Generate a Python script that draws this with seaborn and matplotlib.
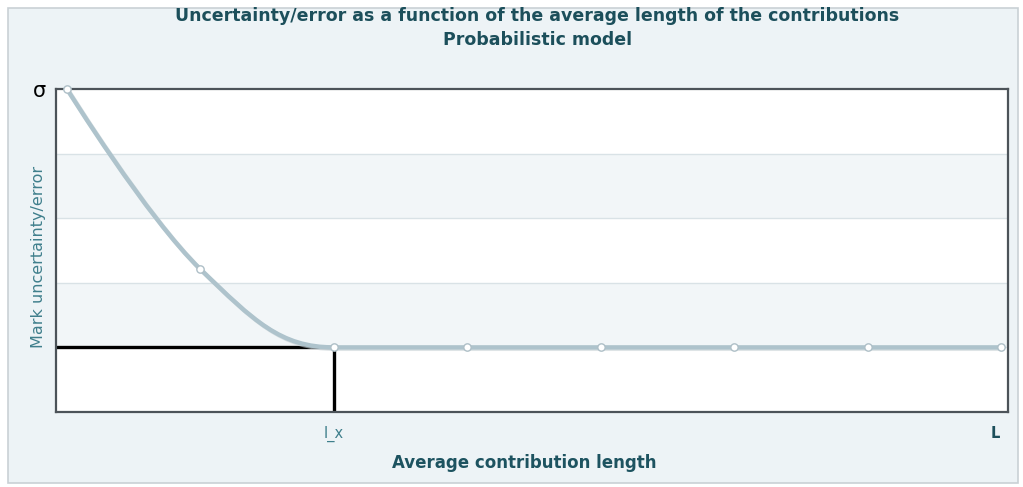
import numpy as np
import pandas as pd
import seaborn as sns
import matplotlib.pyplot as plt
from matplotlib.path import Path
from matplotlib.patches import PathPatch, Rectangle
import matplotlib.patheffects as pe
import matplotlib.transforms as mtransforms

# data
step = [0, 1, 2, 3, 4, 5, 6, 7]
error = [5.0, 2.21, 1.0, 1.0, 1.0, 1.0, 1.0, 1.0]
lx_step = 2
lx_error = 1.0
x_tick_pos = [2, 7]
x_tick_labels = ["l_x", "L"]
y_tick_pos = [5]
y_tick_labels = ["σ"]

df = pd.DataFrame({"step": step, "error": error})


def spline_path(xs, ys, smoothing=1.5):
    # bezier control points like a charting "spline" series
    n = len(xs)
    denom = smoothing + 1
    left = [None] * n
    right = [None] * n
    for i in range(1, n - 1):
        lx_, ly_ = xs[i - 1], ys[i - 1]
        nx_, ny_ = xs[i + 1], ys[i + 1]
        px, py = xs[i], ys[i]
        lcx = (smoothing * px + lx_) / denom
        lcy = (smoothing * py + ly_) / denom
        rcx = (smoothing * px + nx_) / denom
        rcy = (smoothing * py + ny_) / denom
        corr = ((rcy - lcy) * (rcx - px)) / (rcx - lcx) + py - rcy
        lcy += corr
        rcy += corr
        if lcy > ly_ and lcy > py:
            lcy = max(ly_, py)
            rcy = 2 * py - lcy
        elif lcy < ly_ and lcy < py:
            lcy = min(ly_, py)
            rcy = 2 * py - lcy
        if rcy > ny_ and rcy > py:
            rcy = max(ny_, py)
            lcy = 2 * py - rcy
        elif rcy < ny_ and rcy < py:
            rcy = min(ny_, py)
            lcy = 2 * py - rcy
        left[i] = (lcx, lcy)
        right[i] = (rcx, rcy)
    verts = [(xs[0], ys[0])]
    codes = [Path.MOVETO]
    for i in range(1, n):
        c1 = right[i - 1] if right[i - 1] is not None else (xs[i - 1], ys[i - 1])
        c2 = left[i] if left[i] is not None else (xs[i], ys[i])
        verts += [c1, c2, (xs[i], ys[i])]
        codes += [Path.CURVE4] * 3
    return Path(verts, codes)


sns.set_style("white")
plt.rcParams["font.family"] = ["DejaVu Sans"]

fig = plt.figure(figsize=(10.23, 4.87), dpi=100)
fig.patch.set_facecolor("white")
fig.patches.append(Rectangle((8 / 1023, 4 / 487), 1010 / 1023, 475 / 487,
                             transform=fig.transFigure, facecolor="#edf3f6",
                             edgecolor="#c9d1d5", linewidth=1.2, zorder=-5))

ax = fig.add_axes([56 / 1023, 75 / 487, 952 / 1023, 323 / 487])
ax.set_facecolor("white")
ax.set_xlim(-0.082, 7.052)
ax.set_ylim(0, 5)

# alternating bands and grid
for lo in [1, 3]:
    ax.axhspan(lo, lo + 1, color="#f2f6f8", zorder=0, lw=0)
for g in [1, 2, 3, 4]:
    ax.axhline(g, color="#d9e2e6", lw=1, zorder=0.5)

# the curve
curve = PathPatch(spline_path(step, error), facecolor="none", edgecolor="#aec3cc",
                  lw=3.2, capstyle="round", zorder=3,
                  path_effects=[pe.SimpleLineShadow(offset=(1, -1), shadow_color="#c8d2d6", alpha=0.6),
                                pe.Normal()])
ax.add_patch(curve)
sns.scatterplot(data=df, x="step", y="error", ax=ax, s=28, color="white",
                edgecolor="#aebfc7", linewidth=1.0, zorder=4, clip_on=False)

# l_x guides
ax.hlines(lx_error, ax.get_xlim()[0], lx_step, color="black", lw=2.4, zorder=2)
ax.vlines(lx_step, 0, lx_error, color="black", lw=2.4, zorder=2)

for s in ax.spines.values():
    s.set_visible(True)
    s.set_color("#4c5359")
    s.set_linewidth(1.6)

ax.set_xticks(x_tick_pos)
ax.set_xticklabels(x_tick_labels)
ax.set_yticks(y_tick_pos)
ax.set_yticklabels(y_tick_labels)
ax.tick_params(axis="x", length=0, pad=10)
ax.tick_params(axis="y", length=0, pad=7)
xt = ax.get_xticklabels()
xt[0].set_color("#3f7f8c")
xt[0].set_fontsize(10.5)
xt[1].set_color("#1d4f5b")
xt[1].set_fontweight("bold")
xt[1].set_fontsize(10.5)
xt[1].set_transform(xt[1].get_transform() +
                    mtransforms.ScaledTranslation(-6 / 100, 0, fig.dpi_scale_trans))
for t in ax.get_yticklabels():
    t.set_fontsize(15)
    t.set_color("black")

ax.set_xlabel("Average contribution length", fontsize=12, fontweight="bold",
              color="#1d5360")
ax.xaxis.set_label_coords(0.4916, -0.13)
ax.set_ylabel("Mark uncertainty/error", fontsize=11.5, color="#3f7f8c")
ax.yaxis.set_label_coords(-0.011, 0.48)

fig.text(0.525, 1 - 16 / 487, "Uncertainty/error as a function of the average length of the contributions",
         ha="center", va="center", fontsize=12.5, fontweight="bold", color="#1c4f5b")
fig.text(0.525, 1 - 40 / 487, "Probabilistic model",
         ha="center", va="center", fontsize=12.5, fontweight="bold", color="#1c4f5b")

fig.savefig("out.png", dpi=100)
